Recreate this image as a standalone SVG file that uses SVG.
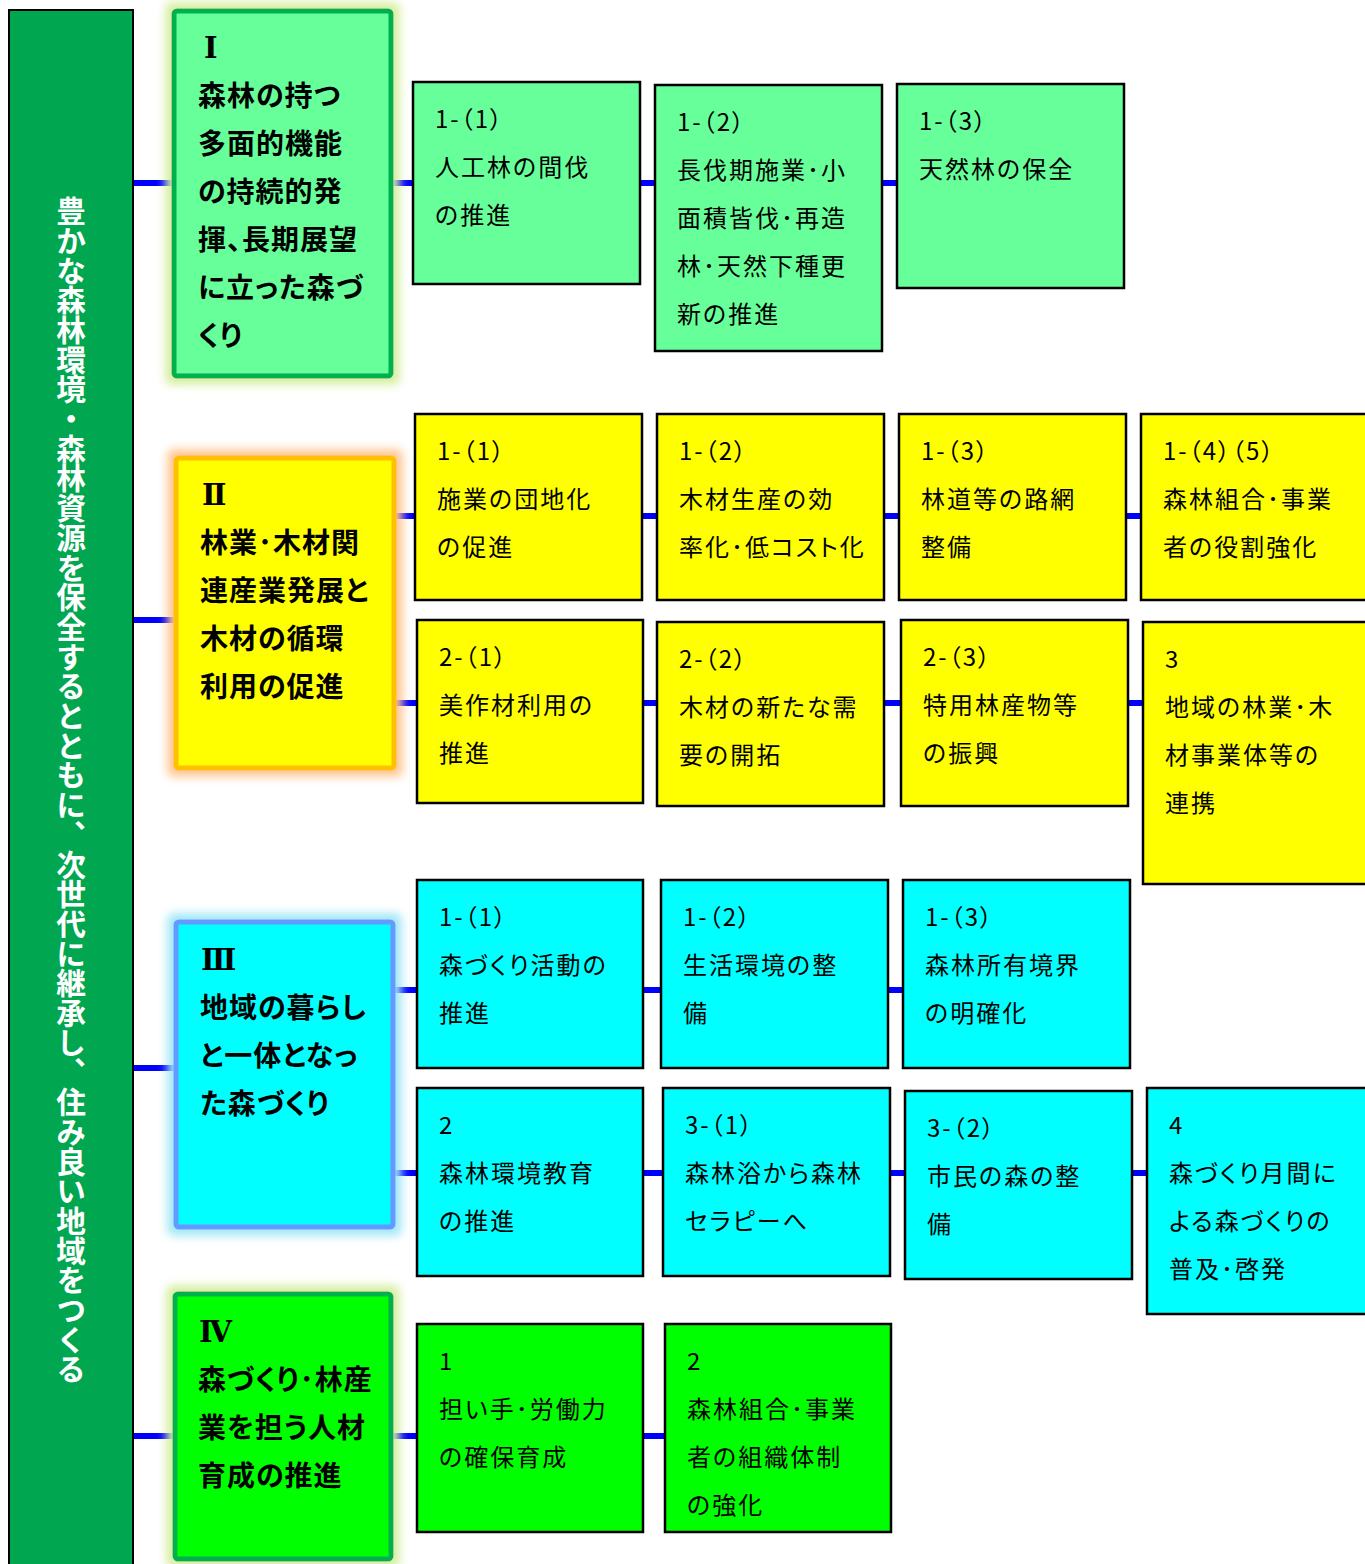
<svg xmlns="http://www.w3.org/2000/svg" width="1365" height="1564" viewBox="0 0 1365 1564">
<defs>
<style>
.bar{fill:#00A650;stroke:#000;stroke-width:2}
.vt{font-family:"Noto Sans CJK JP",sans-serif;font-size:29.7px;font-weight:700;fill:#fff}
.con line{stroke:#0000FF;stroke-width:6}
.sb{stroke:#000;stroke-width:2.5}
.fI{fill:#66FF99}
.fII{fill:#FFFF00}
.fIII{fill:#00FFFF}
.fIV{fill:#00FF00}
.st{font-family:"Noto Sans CJK JP",sans-serif;font-size:24px;letter-spacing:2px;font-feature-settings:"palt";fill:#000}
.mt{font-family:"Noto Sans CJK JP",sans-serif;font-size:28px;font-weight:700;letter-spacing:1px;font-feature-settings:"palt";fill:#000}
.rn{font-family:"DejaVu Serif","Noto Sans CJK JP",serif;font-size:29px;font-weight:700;fill:#000}
</style>
<filter id="gGreen" x="-20%" y="-20%" width="140%" height="140%">
<feMorphology in="SourceAlpha" operator="dilate" radius="6" result="d"/>
<feGaussianBlur in="d" stdDeviation="5" result="b"/>
<feFlood flood-color="#D4EE9E"/>
<feComposite in2="b" operator="in" result="g"/>
<feMerge><feMergeNode in="g"/><feMergeNode in="SourceGraphic"/></feMerge>
</filter>
<filter id="gOrange" x="-20%" y="-20%" width="140%" height="140%">
<feMorphology in="SourceAlpha" operator="dilate" radius="6" result="d"/>
<feGaussianBlur in="d" stdDeviation="5" result="b"/>
<feFlood flood-color="#FFC48E"/>
<feComposite in2="b" operator="in" result="g"/>
<feMerge><feMergeNode in="g"/><feMergeNode in="SourceGraphic"/></feMerge>
</filter>
<filter id="gBlue" x="-20%" y="-20%" width="140%" height="140%">
<feMorphology in="SourceAlpha" operator="dilate" radius="6" result="d"/>
<feGaussianBlur in="d" stdDeviation="5" result="b"/>
<feFlood flood-color="#9EE6F6"/>
<feComposite in2="b" operator="in" result="g"/>
<feMerge><feMergeNode in="g"/><feMergeNode in="SourceGraphic"/></feMerge>
</filter>
</defs>
<rect width="1365" height="1564" fill="#fff"/>

<g id="connectors" class="con">
<line x1="134" y1="183" x2="176" y2="183"/>
<line x1="389" y1="183" x2="900" y2="183"/>
<line x1="134" y1="620" x2="178" y2="620"/>
<line x1="392" y1="516" x2="1144" y2="516"/>
<line x1="392" y1="703" x2="1146" y2="703"/>
<line x1="134" y1="1068" x2="178" y2="1068"/>
<line x1="392" y1="990" x2="906" y2="990"/>
<line x1="392" y1="1173" x2="1150" y2="1173"/>
<line x1="134" y1="1436" x2="176" y2="1436"/>
<line x1="390" y1="1436" x2="668" y2="1436"/>
</g>

<g id="root">
<rect class="bar" x="9" y="10" width="124" height="1560"/>
<text class="vt" x="71" y="196" writing-mode="vertical-rl">豊かな森林環境・森林資源を保全するとともに、次世代に継承し、住み良い地域をつくる</text>
</g>

<g id="nodeI">
<rect x="174" y="11" width="217" height="365" rx="3" fill="#66FF99" stroke="#00B050" stroke-width="5" filter="url(#gGreen)"/>
<text class="rn" x="204" y="58">Ⅰ</text>
<text class="mt" x="198" y="106">森林の持つ</text>
<text class="mt" x="198" y="154">多面的機能</text>
<text class="mt" x="198" y="202">の持続的発</text>
<text class="mt" x="198" y="250">揮、長期展望</text>
<text class="mt" x="198" y="298">に立った森づ</text>
<text class="mt" x="198" y="346">くり</text>
</g>

<g id="nodeII">
<rect x="176" y="458" width="218" height="310" rx="3" fill="#FFFF00" stroke="#FFC000" stroke-width="5" filter="url(#gOrange)"/>
<text class="rn" x="202" y="505">Ⅱ</text>
<text class="mt" x="200" y="553">林業･木材関</text>
<text class="mt" x="200" y="601">連産業発展と</text>
<text class="mt" x="200" y="649">木材の循環</text>
<text class="mt" x="200" y="697">利用の促進</text>
</g>

<g id="nodeIII">
<rect x="176" y="922" width="217" height="305" rx="3" fill="#00FFFF" stroke="#6699FF" stroke-width="5" filter="url(#gBlue)"/>
<text class="rn" x="201" y="970">Ⅲ</text>
<text class="mt" x="200" y="1018">地域の暮らし</text>
<text class="mt" x="200" y="1066">と一体となっ</text>
<text class="mt" x="200" y="1114">た森づくり</text>
</g>

<g id="nodeIV">
<rect x="175" y="1294" width="216" height="265" rx="3" fill="#00FF00" stroke="#00B050" stroke-width="5" filter="url(#gGreen)"/>
<text class="rn" x="199" y="1342">Ⅳ</text>
<text class="mt" x="198" y="1390">森づくり･林産</text>
<text class="mt" x="198" y="1438">業を担う人材</text>
<text class="mt" x="198" y="1486">育成の推進</text>
</g>

<g id="nodeI-1-1">
<rect class="sb fI" x="413" y="82" width="227" height="202"/>
<text class="st" x="435" y="128">1-（1）</text>
<text class="st" x="435" y="176">人工林の間伐</text>
<text class="st" x="435" y="224">の推進</text>
</g>
<g id="nodeI-1-2">
<rect class="sb fI" x="655" y="85" width="227" height="266"/>
<text class="st" x="677" y="131">1-（2）</text>
<text class="st" x="677" y="179">長伐期施業･小</text>
<text class="st" x="677" y="227">面積皆伐･再造</text>
<text class="st" x="677" y="275">林･天然下種更</text>
<text class="st" x="677" y="323">新の推進</text>
</g>
<g id="nodeI-1-3">
<rect class="sb fI" x="897" y="84" width="227" height="204"/>
<text class="st" x="919" y="130">1-（3）</text>
<text class="st" x="919" y="178">天然林の保全</text>
</g>

<g id="nodeII-1-1">
<rect class="sb fII" x="415" y="414" width="227" height="186"/>
<text class="st" x="437" y="460">1-（1）</text>
<text class="st" x="437" y="508">施業の団地化</text>
<text class="st" x="437" y="556">の促進</text>
</g>
<g id="nodeII-1-2">
<rect class="sb fII" x="657" y="414" width="227" height="186"/>
<text class="st" x="679" y="460">1-（2）</text>
<text class="st" x="679" y="508">木材生産の効</text>
<text class="st" x="679" y="556">率化･低コスト化</text>
</g>
<g id="nodeII-1-3">
<rect class="sb fII" x="899" y="414" width="227" height="186"/>
<text class="st" x="921" y="460">1-（3）</text>
<text class="st" x="921" y="508">林道等の路網</text>
<text class="st" x="921" y="556">整備</text>
</g>
<g id="nodeII-1-45">
<rect class="sb fII" x="1141" y="414" width="240" height="186"/>
<text class="st" x="1163" y="460">1-（4）（5）</text>
<text class="st" x="1163" y="508">森林組合･事業</text>
<text class="st" x="1163" y="556">者の役割強化</text>
</g>

<g id="nodeII-2-1">
<rect class="sb fII" x="417" y="620" width="226" height="183"/>
<text class="st" x="439" y="666">2-（1）</text>
<text class="st" x="439" y="714">美作材利用の</text>
<text class="st" x="439" y="762">推進</text>
</g>
<g id="nodeII-2-2">
<rect class="sb fII" x="657" y="622" width="227" height="184"/>
<text class="st" x="679" y="668">2-（2）</text>
<text class="st" x="679" y="716">木材の新たな需</text>
<text class="st" x="679" y="764">要の開拓</text>
</g>
<g id="nodeII-2-3">
<rect class="sb fII" x="901" y="620" width="227" height="186"/>
<text class="st" x="923" y="666">2-（3）</text>
<text class="st" x="923" y="714">特用林産物等</text>
<text class="st" x="923" y="762">の振興</text>
</g>
<g id="nodeII-3">
<rect class="sb fII" x="1143" y="622" width="240" height="262"/>
<text class="st" x="1165" y="668">3</text>
<text class="st" x="1165" y="716">地域の林業･木</text>
<text class="st" x="1165" y="764">材事業体等の</text>
<text class="st" x="1165" y="812">連携</text>
</g>

<g id="nodeIII-1-1">
<rect class="sb fIII" x="417" y="880" width="226" height="188"/>
<text class="st" x="439" y="926">1-（1）</text>
<text class="st" x="439" y="974">森づくり活動の</text>
<text class="st" x="439" y="1022">推進</text>
</g>
<g id="nodeIII-1-2">
<rect class="sb fIII" x="661" y="880" width="227" height="188"/>
<text class="st" x="683" y="926">1-（2）</text>
<text class="st" x="683" y="974">生活環境の整</text>
<text class="st" x="683" y="1022">備</text>
</g>
<g id="nodeIII-1-3">
<rect class="sb fIII" x="903" y="880" width="227" height="188"/>
<text class="st" x="925" y="926">1-（3）</text>
<text class="st" x="925" y="974">森林所有境界</text>
<text class="st" x="925" y="1022">の明確化</text>
</g>

<g id="nodeIII-2">
<rect class="sb fIII" x="417" y="1088" width="226" height="188"/>
<text class="st" x="439" y="1134">2</text>
<text class="st" x="439" y="1182">森林環境教育</text>
<text class="st" x="439" y="1230">の推進</text>
</g>
<g id="nodeIII-3-1">
<rect class="sb fIII" x="663" y="1088" width="227" height="188"/>
<text class="st" x="685" y="1134">3-（1）</text>
<text class="st" x="685" y="1182">森林浴から森林</text>
<text class="st" x="685" y="1230">セラピーへ</text>
</g>
<g id="nodeIII-3-2">
<rect class="sb fIII" x="905" y="1091" width="227" height="188"/>
<text class="st" x="927" y="1137">3-（2）</text>
<text class="st" x="927" y="1185">市民の森の整</text>
<text class="st" x="927" y="1233">備</text>
</g>
<g id="nodeIII-4">
<rect class="sb fIII" x="1147" y="1088" width="236" height="226"/>
<text class="st" x="1169" y="1134">4</text>
<text class="st" x="1169" y="1182">森づくり月間に</text>
<text class="st" x="1169" y="1230">よる森づくりの</text>
<text class="st" x="1169" y="1278">普及･啓発</text>
</g>

<g id="nodeIV-1">
<rect class="sb fIV" x="417" y="1324" width="226" height="208"/>
<text class="st" x="439" y="1370">1</text>
<text class="st" x="439" y="1418">担い手･労働力</text>
<text class="st" x="439" y="1466">の確保育成</text>
</g>
<g id="nodeIV-2">
<rect class="sb fIV" x="665" y="1324" width="226" height="208"/>
<text class="st" x="687" y="1370">2</text>
<text class="st" x="687" y="1418">森林組合･事業</text>
<text class="st" x="687" y="1466">者の組織体制</text>
<text class="st" x="687" y="1514">の強化</text>
</g>
</svg>
